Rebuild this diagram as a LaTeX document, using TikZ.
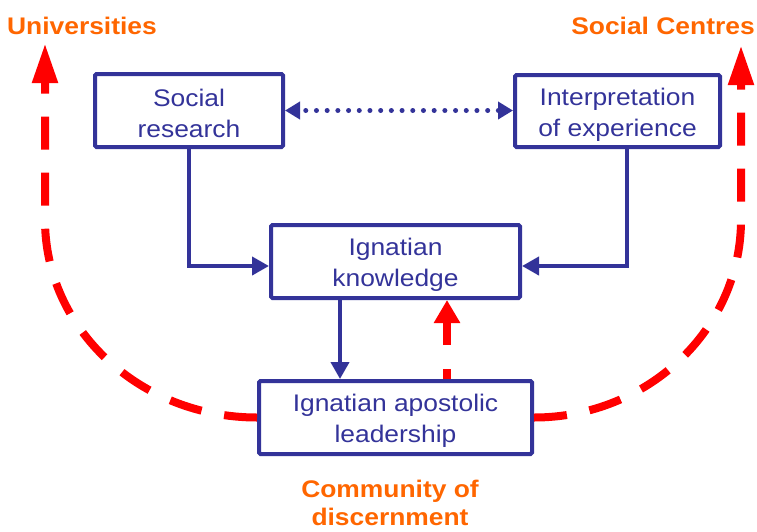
\documentclass[tikz,border=0pt]{standalone}
\usepackage{fontspec}
\setmainfont{Liberation Sans}[FakeStretch=1.1]
\usetikzlibrary{arrows.meta,calc}
\definecolor{boxblue}{HTML}{333399}
\definecolor{lblorange}{HTML}{FF6600}
\definecolor{dashred}{HTML}{FF0000}
\newcommand\tallstrut{\rule{0pt}{24pt}}
\begin{document}
\begin{tikzpicture}[x=1pt,y=-1pt,
  box/.style={draw=boxblue, line width=4pt, rounded corners=1.5pt, text=boxblue, align=center,
    font=\fontsize{24}{31}\selectfont, inner sep=0pt},
  bluearrow/.style={draw=boxblue, line width=4pt, -{Triangle[length=17pt,width=18pt]}},
  reddash/.style={draw=dashred, line width=8pt, dash pattern=on 33pt off 23pt},
  bighead/.style={-{Triangle[length=40pt,width=24pt]}},
  lbl/.style={text=lblorange, font=\bfseries\fontsize{24}{28}\selectfont, align=center, inner sep=0pt}]
\useasboundingbox (0,0) rectangle (757,531);

% boxes
\node[box, minimum width=188pt, minimum height=73pt] (sr) at (189,110.5) {\tallstrut Social\\research};
\node[box, minimum width=205pt, minimum height=72pt] (ie) at (617.5,111) {\tallstrut Interpretation\\of experience};
\node[box, minimum width=249pt, minimum height=73pt] (ik) at (395.5,261.5) {\tallstrut Ignatian\\knowledge};
\node[box, minimum width=273pt, minimum height=73pt] (ial) at (395.5,417.5) {\tallstrut Ignatian apostolic\\leadership};

% labels
\node[lbl] (uni) at (82,26) {Universities};
\node[lbl] (sc) at (663,26) {Social Centres};
\node[lbl] (cd) at (390,503) {Community of\\discernment};

% blue connectors
\draw[bluearrow] (sr.south) |- ([yshift=-4.5pt]ik.west);
\draw[bluearrow] ([xshift=9.5pt]ie.south) |- ([yshift=-4.5pt]ik.east);
\draw[bluearrow] ([xshift=-55.5pt]ik.south) coordinate (k1) -- (k1 |- ial.north);
\draw[draw=boxblue, line width=5pt, line cap=round, dash pattern=on 0pt off 10.7pt, dash phase=4pt,
  {Triangle[length=15pt,width=17pt]}-{Triangle[length=15pt,width=17pt]}]
  (sr.east) -- (sr.east -| ie.west);

% red dashed connectors
\draw[reddash, -{Triangle[length=23pt,width=25pt]}, dash pattern=on 10pt off 24pt on 60pt]
  ([xshift=51.5pt]ial.north) coordinate (r1) -- (r1 |- ik.south);
\draw[reddash, bighead] (ial.west) .. controls (140,417.5) and (45,329) .. (45,220) -- (45,43);
\draw[reddash, bighead] (ial.east) .. controls (648,417.5) and (741,329) .. (741,220) -- (741,45);
\end{tikzpicture}
\end{document}
